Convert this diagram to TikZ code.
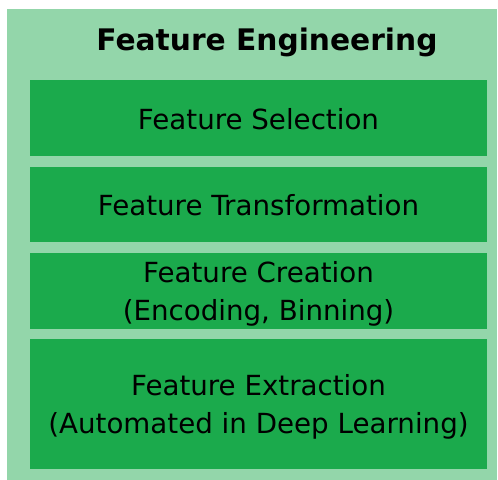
\documentclass[tikz,border=0pt]{standalone}
\usepackage{fontspec}
\setmainfont{DejaVu Sans}
\definecolor{lightg}{HTML}{93D6AA}
\definecolor{darkg}{HTML}{1BAA4C}
\begin{document}
\begin{tikzpicture}[x=1bp,y=-1bp,
  outerbox/.style={fill=lightg,draw=none},
  innerbox/.style={fill=darkg,draw=none},
  lbl/.style={font=\fontsize{27.8}{38}\selectfont,align=center,text=black,inner sep=0pt},
  ttl/.style={font=\fontsize{29.8}{32}\selectfont\bfseries,text=black,inner sep=0pt}]
\useasboundingbox (0,0) rectangle (498,480);
\fill[white] (0,0) rectangle (498,480);
\path[outerbox] (7,9) rectangle (497,480);
\node[ttl] (title) at (267,42) {Feature Engineering};
\path[innerbox] (30,80) rectangle (487,156) node[midway,lbl,yshift=-1bp] (sel) {Feature Selection};
\path[innerbox] (30,167) rectangle (487,242) node[midway,lbl,yshift=-1bp] (trans) {Feature Transformation};
\path[innerbox] (30,253) rectangle (487,329) node[midway,lbl,yshift=-2.5bp] (crea) {Feature Creation\\(Encoding, Binning)};
\path[innerbox] (30,339) rectangle (487,469) node[midway,lbl,yshift=-3bp] (extr) {Feature Extraction\\(Automated in Deep Learning)};
\end{tikzpicture}
\end{document}
